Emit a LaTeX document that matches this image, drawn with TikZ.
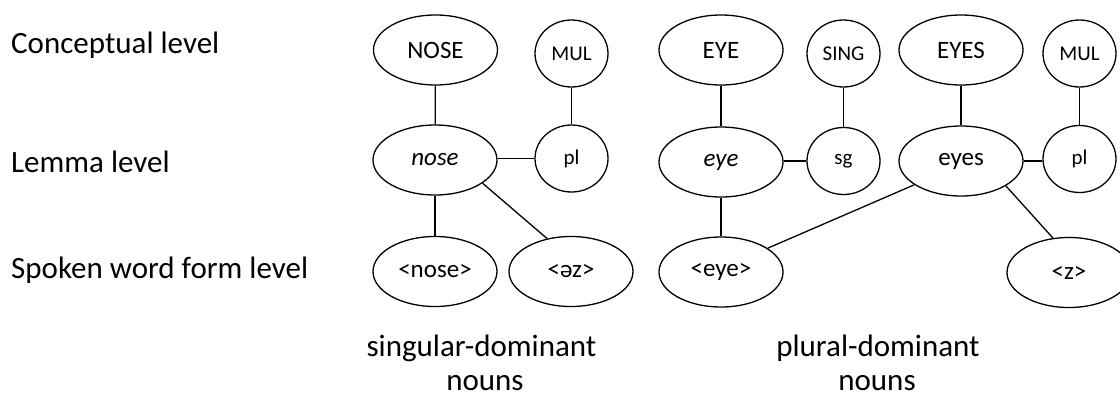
\documentclass[tikz,border=0pt]{standalone}
\usepackage{fontspec}
\setmainfont{Carlito}
\usetikzlibrary{shapes.geometric}
\tikzset{
  big/.style={ellipse, draw, line width=1.3pt, minimum width=124pt, minimum height=70pt, inner sep=0pt, font=\fontsize{25}{30}\selectfont},
  small/.style={ellipse, draw, line width=1.3pt, minimum width=73pt, minimum height=67pt, inner sep=0pt, font=\fontsize{21}{25}\selectfont},
  lbl/.style={anchor=base west, inner sep=0pt, font=\fontsize{31}{37}\selectfont},
  captxt/.style={anchor=base, inner sep=0pt, font=\fontsize{31}{37}\selectfont},
  link/.style={line width=1.3pt}
}
\begin{document}
\begin{tikzpicture}[x=1pt,y=-1pt]
\useasboundingbox (0,0) rectangle (1120,397);
% level labels
\node[lbl] (l1) at (11,53) {Conceptual level};
\node[lbl] (l2) at (11,172) {Lemma level};
\node[lbl] (l3) at (11,278) {Spoken word form level};
% singular-dominant
\node[big]   (NOSE)  at (435.5,50)  {NOSE};
\node[small] (MULa)  at (571.5,53.5) {MUL};
\node[big]   (nose)  at (435,160)   {\itshape nose};
\node[small] (pla)   at (571.5,158.5) {pl};
\node[big]   (nosef) at (435,271.5) {<nose>};
\node[big]   (az)    at (571,271.5) {<əz>};
% plural-dominant
\node[big]   (EYE)   at (721,50)    {EYE};
\node[small] (SING)  at (843.5,53.5) {SING};
\node[big]   (EYES)  at (961,50)    {EYES};
\node[small] (MULb)  at (1079.5,53.5) {MUL};
\node[big]   (eye)   at (721,162)   {\itshape eye};
\node[small] (sg)    at (843.5,161) {sg};
\node[big]   (eyes)  at (961,161)   {eyes};
\node[small] (plb)   at (1079.5,159) {pl};
\node[big]   (eyef)  at (721,272)   {<eye>};
\node[big]   (z)     at (1069,272.5) {<z>};
% captions
\node[captxt] (c1) at (481.5,356) {singular-dominant};
\node[captxt] (c2) at (485,390) {nouns};
\node[captxt] (c3) at (878,356) {plural-dominant};
\node[captxt] (c4) at (877,390) {nouns};
% connectors
\draw[link] (NOSE) -- (nose);
\draw[link] (MULa) -- (pla);
\draw[link] (pla.west) -- (pla.west -| nose.east);
\draw[link] (nose) -- (nosef);
\draw[link] (nose.-26) -- (az.126);
\draw[link] (EYE) -- (eye);
\draw[link] (SING) -- (sg);
\draw[link] (sg.west) -- (sg.west -| eye.east);
\draw[link] (EYES) -- (eyes);
\draw[link] (MULb) -- (plb);
\draw[link] (eyes.east) -- (eyes.east -| plb.west);
\draw[link] (eye) -- (eyef);
\draw[link] (eyes.-153.4) -- (eyef.27);
\draw[link] (eyes.-29.5) -- (z.115);
\end{tikzpicture}
\end{document}
